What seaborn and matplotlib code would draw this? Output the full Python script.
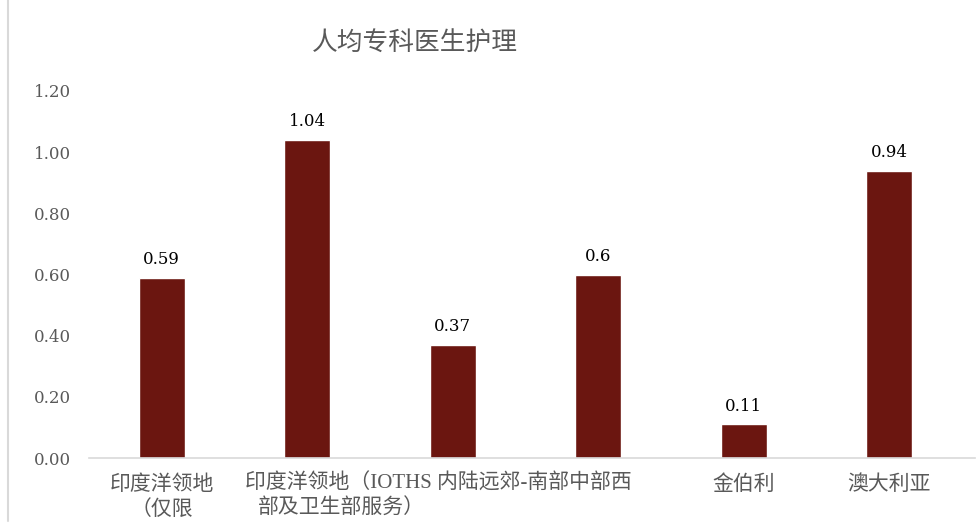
import matplotlib
matplotlib.use("Agg")
import matplotlib.pyplot as plt
import pandas as pd
import seaborn as sns
from matplotlib.lines import Line2D

# 數據
categories = ["印度洋领地（仅限）", "印度洋领地（IOTHS）", "内陆远郊", "南部中部西部及卫生部服务",
              "金伯利", "澳大利亚"]
values = [0.59, 1.04, 0.37, 0.60, 0.11, 0.94]
value_labels = ["0.59", "1.04", "0.37", "0.6", "0.11", "0.94"]
tick_labels = ["印度洋领地\n（仅限", "", "", "", "金伯利", "澳大利亚"]
long_label = ["印度洋领地（IOTHS 内陆远郊-南部中部西", "部及卫生部服务）"]
y_ticks = [0.0, 0.2, 0.4, 0.6, 0.8, 1.0, 1.2]

BAR = "#6B1610"
GREY = "#595959"
NUM = ["DejaVu Serif"]
SERIF = ["Liberation Serif", "Noto Sans CJK SC"]
CJK = ["Noto Sans CJK SC", "Liberation Serif"]
PAD = 11      # 類別標籤距軸線(pt)
LINE = 18     # 類別標籤行距(pt)
FS = 15

sns.set_theme(style="white")
plt.rcParams["font.family"] = CJK

df = pd.DataFrame({"cat": categories, "val": values})

fig = plt.figure(figsize=(9.78, 5.32), dpi=100)
ax = fig.add_axes([0.091, 0.139, 0.906, 0.690])
sns.barplot(df, x="cat", y="val", color=BAR, width=0.316, saturation=1, ax=ax)

ax.set_xlim(-0.5, 5.59)
ax.set_ylim(0, 1.2)
ax.set_yticks(y_ticks)
ax.set_yticklabels([f"{t:.2f}" for t in y_ticks], family=NUM, fontsize=12, color=GREY)
ax.tick_params(axis="y", length=0, pad=13)
ax.tick_params(axis="x", length=0, pad=PAD)
ax.set_xticks(range(len(categories)))
ax.set_xticklabels(tick_labels, family=CJK, fontsize=FS, color=GREY, linespacing=1.15)
ax.set_xlabel("")
ax.set_ylabel("")

# 第二個類別標籤在原圖中溢出、左對齊
for k, (line, dx) in enumerate(zip(long_label, [0.574, 0.664])):
    ax.annotate(line, xy=(dx, 0), xycoords=("data", "axes fraction"),
                xytext=(0, -PAD - k * LINE), textcoords="offset points",
                ha="left", va="top", family=SERIF, fontsize=FS, color=GREY)

for i, (v, lab) in enumerate(zip(values, value_labels)):
    ax.annotate(lab, xy=(i, v), xytext=(0, 7), textcoords="offset points",
                ha="center", va="bottom", family=NUM, fontsize=12, color="black")

for s in ["top", "right", "left"]:
    ax.spines[s].set_visible(False)
ax.spines["bottom"].set_color("#D9D9D9")
ax.spines["bottom"].set_linewidth(1.2)

fig.text(0.424, 0.918, "人均专科医生护理", ha="center", va="center",
         family=CJK, fontsize=18.5, color=GREY)

fig.add_artist(Line2D([0.008, 0.008], [0.02, 1.0], color="#D9D9D9", lw=1.5,
                      transform=fig.transFigure))

fig.savefig("out.png", dpi=100)
